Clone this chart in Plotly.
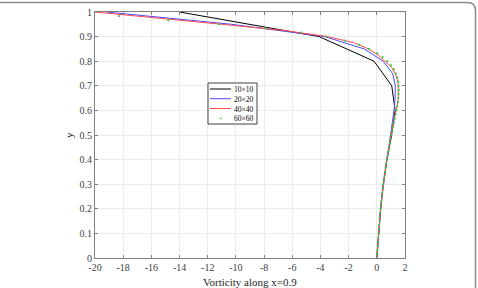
import plotly.graph_objects as go

# ---- data ----
y10 = [0.0, 0.1, 0.2, 0.3, 0.4, 0.5, 0.6, 0.7, 0.8, 0.9, 1.0]
w10 = [0.0, 0.13, 0.27, 0.46, 0.72, 1.05, 1.30, 1.06, -0.2, -4.1, -14.0]

y20 = [k / 20 for k in range(21)]
w20 = [0.0, 0.06, 0.12, 0.19, 0.27, 0.36, 0.46, 0.58, 0.71, 0.85, 0.98,
       1.10, 1.22, 1.30, 1.31, 1.12, 0.45, -0.9, -3.7, -10.3, -19.2]

y40 = [k / 40 for k in range(41)]
w40 = [0.0, 0.03, 0.06, 0.09, 0.12, 0.15, 0.19, 0.23, 0.27, 0.31,
       0.36, 0.41, 0.46, 0.52, 0.58, 0.64, 0.71, 0.78, 0.85, 0.92,
       1.00, 1.08, 1.18, 1.27, 1.38, 1.46, 1.52, 1.54, 1.52, 1.45,
       1.30, 1.05, 0.60, 0.10, -0.60, -1.60, -3.5, -6.6, -11.0, -15.5, -20.0]

y60 = [k / 60 for k in range(61)]
w60 = [0.0, 0.02, 0.04, 0.06, 0.08, 0.10, 0.12, 0.14, 0.16, 0.19,
       0.21, 0.24, 0.27, 0.30, 0.33, 0.36, 0.39, 0.42, 0.46, 0.50,
       0.54, 0.58, 0.62, 0.67, 0.72, 0.77, 0.82, 0.87, 0.93, 0.98,
       1.03, 1.09, 1.15, 1.22, 1.28, 1.34, 1.40, 1.45, 1.50, 1.53,
       1.55, 1.56, 1.55, 1.52, 1.46, 1.36, 1.21, 1.01, 0.74, 0.42,
       0.02, -0.55, -1.25, -2.25, -3.60, -5.40, -7.90, -11.2, -14.8, -18.3, -21.5]

series_names = ["10×10", "20×20", "40×40", "60×60"]
series_colors = ["#000000", "#4a4aff", "#ff4a4a", "#33cc33"]

x_ticks = [-20, -18, -16, -14, -12, -10, -8, -6, -4, -2, 0, 2]
x_tick_labels = ["-20", "-18", "-16", "-14", "-12", "-10", "-8", "-6", "-4", "-2", "0", "2"]
y_ticks = [0, 0.1, 0.2, 0.3, 0.4, 0.5, 0.6, 0.7, 0.8, 0.9, 1]
y_tick_labels = ["0", "0.1", "0.2", "0.3", "0.4", "0.5", "0.6", "0.7", "0.8", "0.9", "1"]

x_title = "Vorticity along x=0.9"
y_title = "y"

FONT = "Liberation Serif"

fig = go.Figure()
fig.add_trace(go.Scatter(x=w10, y=y10, mode="lines", name=series_names[0],
                         line=dict(color=series_colors[0], width=1)))
fig.add_trace(go.Scatter(x=w20, y=y20, mode="lines", name=series_names[1],
                         line=dict(color=series_colors[1], width=1)))
fig.add_trace(go.Scatter(x=w40, y=y40, mode="lines", name=series_names[2],
                         line=dict(color=series_colors[2], width=1)))
fig.add_trace(go.Scatter(x=w60, y=y60, mode="markers", name=series_names[3],
                         marker=dict(color=series_colors[3], size=2.2)))

axis_common = dict(showline=True, linecolor="#808080", linewidth=1,
                   mirror="ticks", ticks="inside", ticklen=3, tickcolor="#808080",
                   showgrid=True, gridcolor="#ebebeb", gridwidth=1, zeroline=False,
                   automargin=False,
                   tickfont=dict(family=FONT, size=10, color="#404040"))

fig.update_xaxes(range=[-20, 2], tickvals=x_ticks, ticktext=x_tick_labels, **axis_common)
fig.update_yaxes(range=[0, 1], tickvals=y_ticks, ticktext=y_tick_labels, **axis_common)

# pixel -> paper helpers (plot area: left 95, bottom 258, 310 x 246 px)
L, B = 95, 258
W, H = 310, 246
def px(xp):
    return (xp - L) / W
def py(yp):
    return (B - yp) / H

# axis titles
fig.add_annotation(x=px(250), y=py(281.5), xref="paper", yref="paper", text=x_title,
                   showarrow=False, xanchor="center", yanchor="middle", borderpad=0,
                   font=dict(family=FONT, size=11, color="#262626"))
fig.add_annotation(x=px(69), y=py(135), xref="paper", yref="paper", text=y_title,
                   showarrow=False, xanchor="center", yanchor="middle", textangle=-90,
                   borderpad=0, font=dict(family=FONT, size=11, color="#262626"))

# outer rounded frame (top and right edges visible)
r = 8
path = (f"M {px(-10)},{py(2.5)} L {px(475.5 - r)},{py(2.5)} "
        f"Q {px(475.5)},{py(2.5)} {px(475.5)},{py(2.5 + r)} "
        f"L {px(475.5)},{py(300)}")
fig.add_shape(type="path", path=path, xref="paper", yref="paper",
              line=dict(color="#8c8c8c", width=1.5), layer="above")

# compact MATLAB-style legend
fig.add_shape(type="rect", xref="paper", yref="paper",
              x0=px(208), x1=px(257), y0=py(124), y1=py(83),
              line=dict(color="#404040", width=1), fillcolor="white", layer="above")
row_y = [89, 98.7, 108.5, 118.3]
for i in range(4):
    if i < 3:
        fig.add_shape(type="line", xref="paper", yref="paper",
                      x0=px(210), x1=px(231), y0=py(row_y[i]), y1=py(row_y[i]),
                      line=dict(color=series_colors[i], width=1), layer="above")
    else:
        fig.add_shape(type="circle", xref="paper", yref="paper",
                      x0=px(219.8), x1=px(221.6), y0=py(row_y[i] + 0.9), y1=py(row_y[i] - 0.9),
                      line=dict(color=series_colors[i], width=0), fillcolor=series_colors[i],
                      layer="above")
fig.add_annotation(x=px(232.5), y=py(sum(row_y) / 4), xref="paper", yref="paper",
                   text="<br>".join(series_names), showarrow=False,
                   xanchor="left", yanchor="middle", align="left", borderpad=0,
                   font=dict(family=FONT, size=7.5, color="#000000"))

fig.update_layout(
    width=478, height=288,
    margin=dict(l=95, r=73, t=12, b=30),
    paper_bgcolor="white", plot_bgcolor="white",
    showlegend=False,
    font=dict(family=FONT),
)

fig.write_html("out.html")
